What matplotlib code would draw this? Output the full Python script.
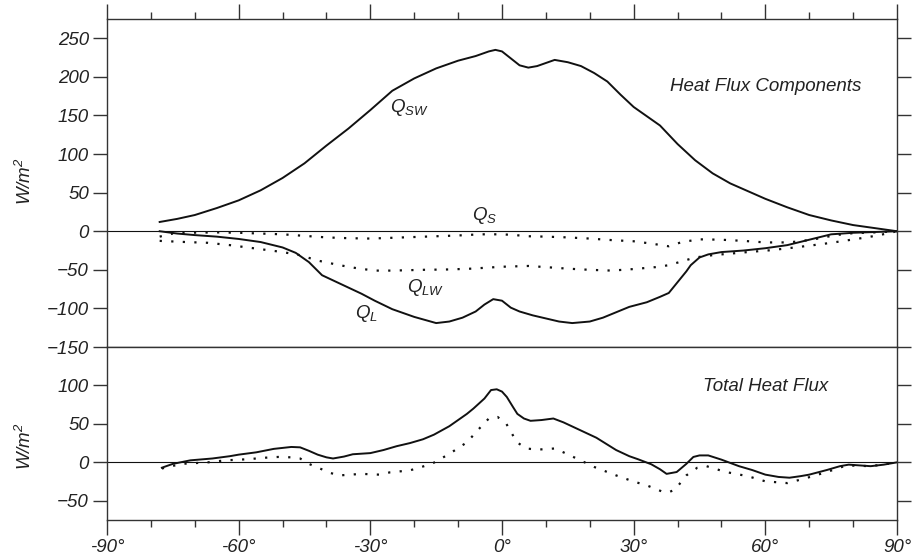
import matplotlib
matplotlib.use("Agg")
import matplotlib.pyplot as plt
import numpy as np

plt.rcParams['font.family'] = ['Liberation Sans', 'DejaVu Sans']
plt.rcParams['font.style'] = 'italic'
plt.rcParams['mathtext.fontset'] = 'custom'
plt.rcParams['mathtext.it'] = 'Liberation Sans:italic'
plt.rcParams['mathtext.rm'] = 'Liberation Sans:italic'
plt.rcParams['mathtext.sf'] = 'Liberation Sans:italic'

# ---------------- data ----------------
lat_sw = [-78, -74, -70, -65, -60, -55, -50, -45, -40, -35, -30, -25, -20, -15, -10, -6, -3, -1.5,
          0, 2, 4, 6, 8, 10, 12, 15, 18, 21, 24, 27, 30, 33, 36, 40, 44, 48, 52, 56, 60, 65, 70,
          75, 80, 85, 90]
q_sw = [12, 16, 21, 30, 40, 53, 69, 88, 111, 133, 157, 182, 198, 211, 221, 227, 233, 235,
        233, 224, 215, 212, 214, 218, 222, 219, 214, 205, 194, 177, 161, 149, 137, 113, 92, 75,
        62, 52, 42, 31, 21, 14, 8, 4, 0]

lat_l = [-78, -74, -70, -65, -60, -55, -50, -47, -44, -41, -38, -35, -32, -29, -25, -20, -15,
         -12, -9, -6, -4, -2, 0, 2, 4, 7, 10, 13, 16, 20, 23, 26, 29, 33, 36, 38, 40, 42, 43,
         45, 47, 50, 55, 60, 65, 70, 75, 80, 85, 90]
q_l = [0, -3, -5, -7, -10, -14, -21, -28, -40, -57, -65, -73, -81, -90, -101, -111, -119,
       -117, -112, -104, -95, -88, -90, -99, -104, -109, -113, -117, -119, -117, -112, -105,
       -98, -92, -85, -80, -66, -52, -44, -34, -30, -27, -25, -22, -18, -11, -4, -2, -1, 0]

lat_s = [-78, -75, -72, -65, -60, -55, -50, -45, -40, -35, -30, -25, -20, -15, -10, -5, 0, 3,
         6, 10, 15, 20, 25, 30, 34, 38, 41, 45, 50, 55, 60, 65, 68, 72, 76, 80, 85, 90]
q_s = [-7, -3, -2, -1.5, -2, -3, -4, -6, -8, -9, -9.5, -8.5, -7.5, -6.5, -5.5, -4, -4, -5,
       -6.5, -7, -8, -9.5, -11.5, -13, -16, -19.5, -14, -10.5, -11, -12.5, -14.5, -14.5, -13,
       -9.5, -5, -2.5, -1.5, 0]

lat_lw = [-78, -72, -67, -62, -56, -50, -46, -42, -37, -33, -29, -25, -18, -12, -7, 0, 6, 10,
          15, 20, 25, 30, 35, 38, 41, 44, 48, 52, 56, 61, 66, 71, 75, 79, 83, 86, 90]
q_lw = [-12.5, -14, -15, -18, -22.5, -27, -31, -38, -44, -48, -51, -51, -50, -49.5, -48.5,
        -46, -45, -46.5, -48.5, -50, -51, -49, -46.5, -44, -39, -34, -31, -29, -27, -24.7,
        -21.5, -18, -15, -11.5, -8, -5, 0]

lat_tot = [-77.5, -75, -71, -66, -62, -60, -56, -52, -48, -46, -44, -42, -40, -38.5, -36, -34,
           -30, -27, -24, -21, -18, -15.5, -12, -10, -8, -6.5, -4, -2.5, -1.2, 0, 1.1, 2.5,
           3.5, 5, 6.5, 9, 11.7, 14, 17, 21.5, 26, 29, 31, 34, 36, 37.5, 39.8, 42, 43.6, 45,
           47, 50, 54, 57, 60, 63, 65.5, 68, 70, 74, 77, 79, 84, 87, 90]
q_tot = [-7, -2, 2.6, 5, 8, 10, 13, 17.5, 20, 19.5, 15, 10, 6.5, 5, 7.5, 10.5, 12, 16, 21, 25,
         30, 36, 47, 55, 63, 70, 83, 94, 95, 92, 85, 72, 63, 57, 54, 55, 57, 52, 44, 32, 16, 8,
         4, -2.5, -9, -15, -12.6, -2, 7, 9, 9, 3.5, -5, -10, -16, -19, -20, -18, -16, -10, -5,
         -3, -5, -3, 0]

lat_tot2 = [-77.5, -73, -67, -63, -58, -54, -51, -48, -46, -44, -41.5, -39, -37, -32, -28,
            -25.5, -21, -16, -12, -8, -5, -3, -1, 1, 3.4, 5.6, 8, 12, 14, 17, 21, 26, 30, 33,
            36.7, 38, 39.5, 42, 44.5, 46.6, 51, 56, 60, 65, 69, 74, 78.5, 84, 89, 90]
q_tot2 = [-8, -2, 0, 2.6, 4, 6, 7, 6.5, 5, -2, -8, -14, -17, -15, -16, -13, -10.5, -2, 11, 26,
          45, 57, 59, 50, 26, 18, 16.5, 18, 13, 5, -6, -17, -25, -30, -38.5, -39, -35, -17, -7,
          -5, -12.6, -18, -24.7, -27, -21, -12.6, -4, -5, -1, 0]

xticks = [-90, -60, -30, 0, 30, 60, 90]
xticklabels = ['-90°', '-60°', '-30°', '0°', '30°', '60°', '90°']
yticks_top = [-150, -100, -50, 0, 50, 100, 150, 200, 250]
yticks_bot = [-50, 0, 50, 100]

# ---------------- figure ----------------
W, H = 914, 555
fig = plt.figure(figsize=(W / 100, H / 100), dpi=100)
fig.patch.set_facecolor('white')

L, R = 107, 897
ax1 = fig.add_axes([L / W, 1 - 347 / H, (R - L) / W, (347 - 19) / H])
ax2 = fig.add_axes([L / W, 1 - 520 / H, (R - L) / W, (520 - 347) / H])

tc = '#222222'
fs = 13.5
solid = dict(color='#111111', lw=1.4, solid_joinstyle='round')
dotted = dict(color='#111111', lw=1.6, linestyle=(0, (1, 4.2)), dash_capstyle='butt')

for ax in (ax1, ax2):
    ax.set_xlim(-90, 90)
    ax.axhline(0, color='#111111', lw=0.8, zorder=1)
    for s in ax.spines.values():
        s.set_color('#333333')
        s.set_linewidth(1.0)
    ax.set_xticks(xticks)
    ax.set_xticks(np.arange(-80, 90, 10), minor=True)
    ax.tick_params(axis='y', which='major', direction='out', length=10, width=1.0,
                   color='#333333', left=True, right=True, labelleft=True, labelright=False,
                   labelsize=fs, labelcolor=tc, pad=3)
    ax.tick_params(axis='x', which='major', direction='out', length=11, width=1.0,
                   color='#333333')
    ax.tick_params(axis='x', which='minor', direction='out', length=5, width=1.0,
                   color='#333333')

# top panel
ax1.set_ylim(-150, 275)
ax1.set_yticks(yticks_top)
ax1.set_yticklabels([str(v).replace('-', '\u2212') for v in yticks_top])
ax1.tick_params(axis='x', which='both', top=True, bottom=False, labeltop=False,
                labelbottom=False)
ax1.plot(lat_sw, q_sw, **solid)
ax1.plot(lat_l, q_l, **solid)
ax1.plot(lat_s, q_s, **dotted)
ax1.plot(lat_lw, q_lw, **dotted)

ax1.text(-25.5, 160, r'$Q_{SW}$', fontsize=fs, color=tc, ha='left', va='center')
ax1.text(-6.8, 21, r'$Q_{S}$', fontsize=fs, color=tc, ha='left', va='center')
ax1.text(-21.6, -73, r'$Q_{LW}$', fontsize=fs, color=tc, ha='left', va='center')
ax1.text(-33.5, -107, r'$Q_{L}$', fontsize=fs, color=tc, ha='left', va='center')
ax1.text(38.3, 188, 'Heat Flux Components', fontsize=fs, color=tc, ha='left', va='center',
         style='italic')

# bottom panel
ax2.set_ylim(-75, 150)
ax2.set_yticks(yticks_bot)
ax2.set_yticklabels([str(v).replace('-', '\u2212') for v in yticks_bot])
ax2.tick_params(axis='x', which='both', top=False, bottom=True, labelbottom=True,
                labelsize=fs, labelcolor=tc, pad=3)
ax2.set_xticklabels(xticklabels)
ax2.plot(lat_tot, q_tot, **solid)
ax2.plot(lat_tot2, q_tot2, **dotted)
ax2.text(45.8, 98, 'Total Heat Flux', fontsize=fs, color=tc, ha='left', va='center',
         style='italic')

fig.text(25 / W, 1 - 181 / H, r'W/m$^2$', rotation=90, fontsize=fs, color=tc,
         ha='center', va='center', style='italic')
fig.text(25 / W, 1 - 446 / H, r'W/m$^2$', rotation=90, fontsize=fs, color=tc,
         ha='center', va='center', style='italic')

fig.savefig('out.png', dpi=100)
